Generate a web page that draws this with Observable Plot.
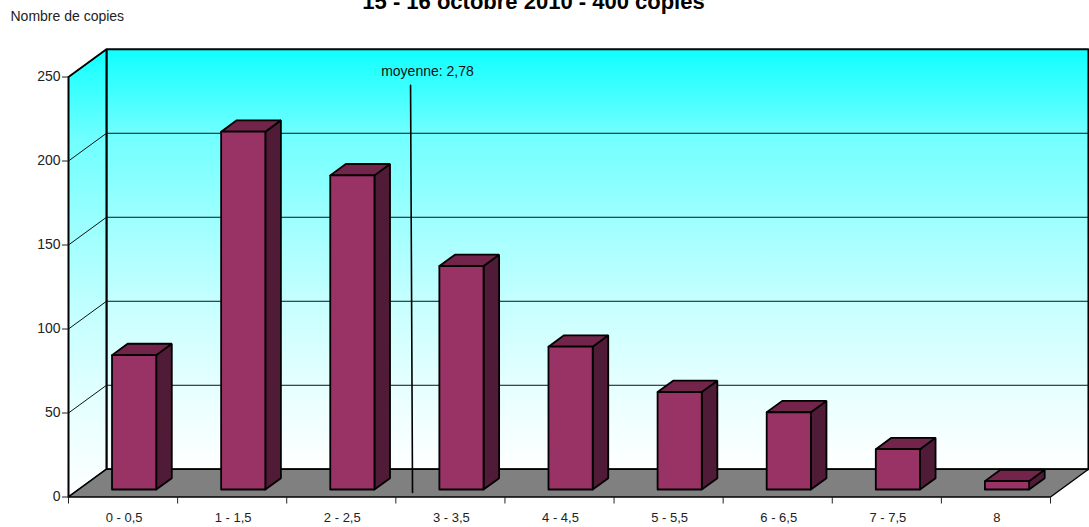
<!DOCTYPE html>
<html><head><meta charset="utf-8">
<script src="https://cdn.jsdelivr.net/npm/d3@7"></script>
<script src="https://cdn.jsdelivr.net/npm/@observablehq/plot@0.6"></script>
<style>html,body{margin:0;padding:0;background:#fff}svg{display:block;overflow:hidden}</style>
</head><body><div id="chart"></div>
<script>
const categories = ["0 - 0,5","1 - 1,5","2 - 2,5","3 - 3,5","4 - 4,5","5 - 5,5","6 - 6,5","7 - 7,5","8"];
const copies = [80, 213, 187, 133, 85, 58, 46, 24, 5];
const gridValues = [0, 50, 100, 150, 200, 250];
const meanLine = [[3.135, 245], [3.153, 2.7]];
const titleText = "15 - 16 octobre 2010 - 400 copies";
const yAxisTitle = "Nombre de copies";
const meanText = "moyenne: 2,78";

// oblique projection, in data units
const depthX = 0.348, depthY = 16.5;
const slot = 0.305, barW = 0.405, z0 = 0.27, z1 = 0.68;
const project = (x, v, z) => ({x: x + z * depthX, y: v + z * depthY});

const face = (id, pts) => pts.concat([pts[0]]).map(([x, v, z]) => ({id, ...project(x, v, z)}));
const nCat = categories.length, yMax = 250;
const backWall = face("b", [[0,0,1],[nCat,0,1],[nCat,yMax,1],[0,yMax,1]]);
const sideWall = face("s", [[0,0,0],[0,0,1],[0,yMax,1],[0,yMax,0]]);
const floor = face("f", [[0,0,0],[nCat,0,0],[nCat,0,1],[0,0,1]]);
const grid = gridValues.slice(1, -1).flatMap(v => [
  {id: v, ...project(0, v, 0)}, {id: v, ...project(0, v, 1)}, {id: v, ...project(nCat, v, 1)}
]);
const fronts = [], tops = [], sides = [];
copies.forEach((v, i) => {
  const a = i + slot, b = a + barW;
  fronts.push(...face(i, [[a,0,z0],[b,0,z0],[b,v,z0],[a,v,z0]]));
  tops.push(...face(i, [[a,v,z0],[b,v,z0],[b,v,z1],[a,v,z1]]));
  sides.push(...face(i, [[b,0,z0],[b,0,z1],[b,v,z1],[b,v,z0]]));
});

const defs = () => {
  const ns = "http://www.w3.org/2000/svg";
  const g = document.createElementNS(ns, "g");
  g.innerHTML = `<defs>
    <linearGradient id="wall" x1="0" y1="0" x2="0" y2="1">
      <stop offset="0" stop-color="#10ffff"/>
      <stop offset="0.2" stop-color="#70ffff"/>
      <stop offset="0.4" stop-color="#9dffff"/>
      <stop offset="0.6" stop-color="#c6ffff"/>
      <stop offset="0.8" stop-color="#e6ffff"/>
      <stop offset="1" stop-color="#ffffff"/>
    </linearGradient></defs>`;
  return g;
};

const P = {x: "x", y: "y", z: "id", curve: "linear"};
const plot = Plot.plot({
  width: 1089, height: 527,
  marginLeft: 68, marginRight: 39, marginTop: 76.5, marginBottom: 30.5,
  x: {domain: [0, nCat], axis: null},
  y: {domain: [0, yMax], axis: null},
  style: {fontFamily: "'Liberation Sans', Arial, sans-serif", background: "#fff", overflow: "hidden"},
  marks: [
    defs,
    Plot.line(backWall, {...P, fill: "url(#wall)", stroke: "#000", strokeWidth: 2, strokeLinejoin: "miter"}),
    Plot.line(sideWall, {...P, fill: "url(#wall)", stroke: "#000", strokeWidth: 2, strokeLinejoin: "miter"}),
    Plot.line(floor, {...P, fill: "#808080", stroke: "#000", strokeWidth: 1.4, strokeLinejoin: "miter"}),
    Plot.line(grid, {...P, stroke: "#111", strokeWidth: 1}),
    Plot.line(sides, {...P, fill: "#4f1b36", stroke: "#000", strokeWidth: 1.8, strokeLinejoin: "miter"}),
    Plot.line(tops, {...P, fill: "#72244a", stroke: "#000", strokeWidth: 1.8, strokeLinejoin: "miter"}),
    Plot.line(fronts, {...P, fill: "#993366", stroke: "#000", strokeWidth: 1.8, strokeLinejoin: "miter"}),
    Plot.line(meanLine, {x: d => d[0], y: d => d[1], stroke: "#000", strokeWidth: 1.6}),
    Plot.text([meanText], {x: 3.29, y: 253, text: d => d, fontSize: 14, fill: "#111"}),
    Plot.axisY({ticks: gridValues, tickSize: 6, tickPadding: 2, fontSize: 14, label: null, color: "#222", marginLeft: 68}),
    Plot.axisX({ticks: d3.range(nCat + 1), tickSize: 7, tickFormat: () => "", label: null, color: "#222"}),
    Plot.axisX({ticks: categories.map((_, i) => i + 0.5), tickSize: 0, tickPadding: 16, dx: 1, fontSize: 13, label: null,
      tickFormat: v => categories[v - 0.5], fill: "#222"}),
    Plot.text([yAxisTitle], {frameAnchor: "top-left", dx: -58, dy: -66.4, text: d => d, fontSize: 14, fill: "#222"}),
    Plot.text([titleText], {frameAnchor: "top", dx: -26, dy: -83.4, text: d => d, fontSize: 22, fontWeight: "bold", fill: "#000"})
  ]
});
document.getElementById("chart").append(plot);
</script></body></html>
